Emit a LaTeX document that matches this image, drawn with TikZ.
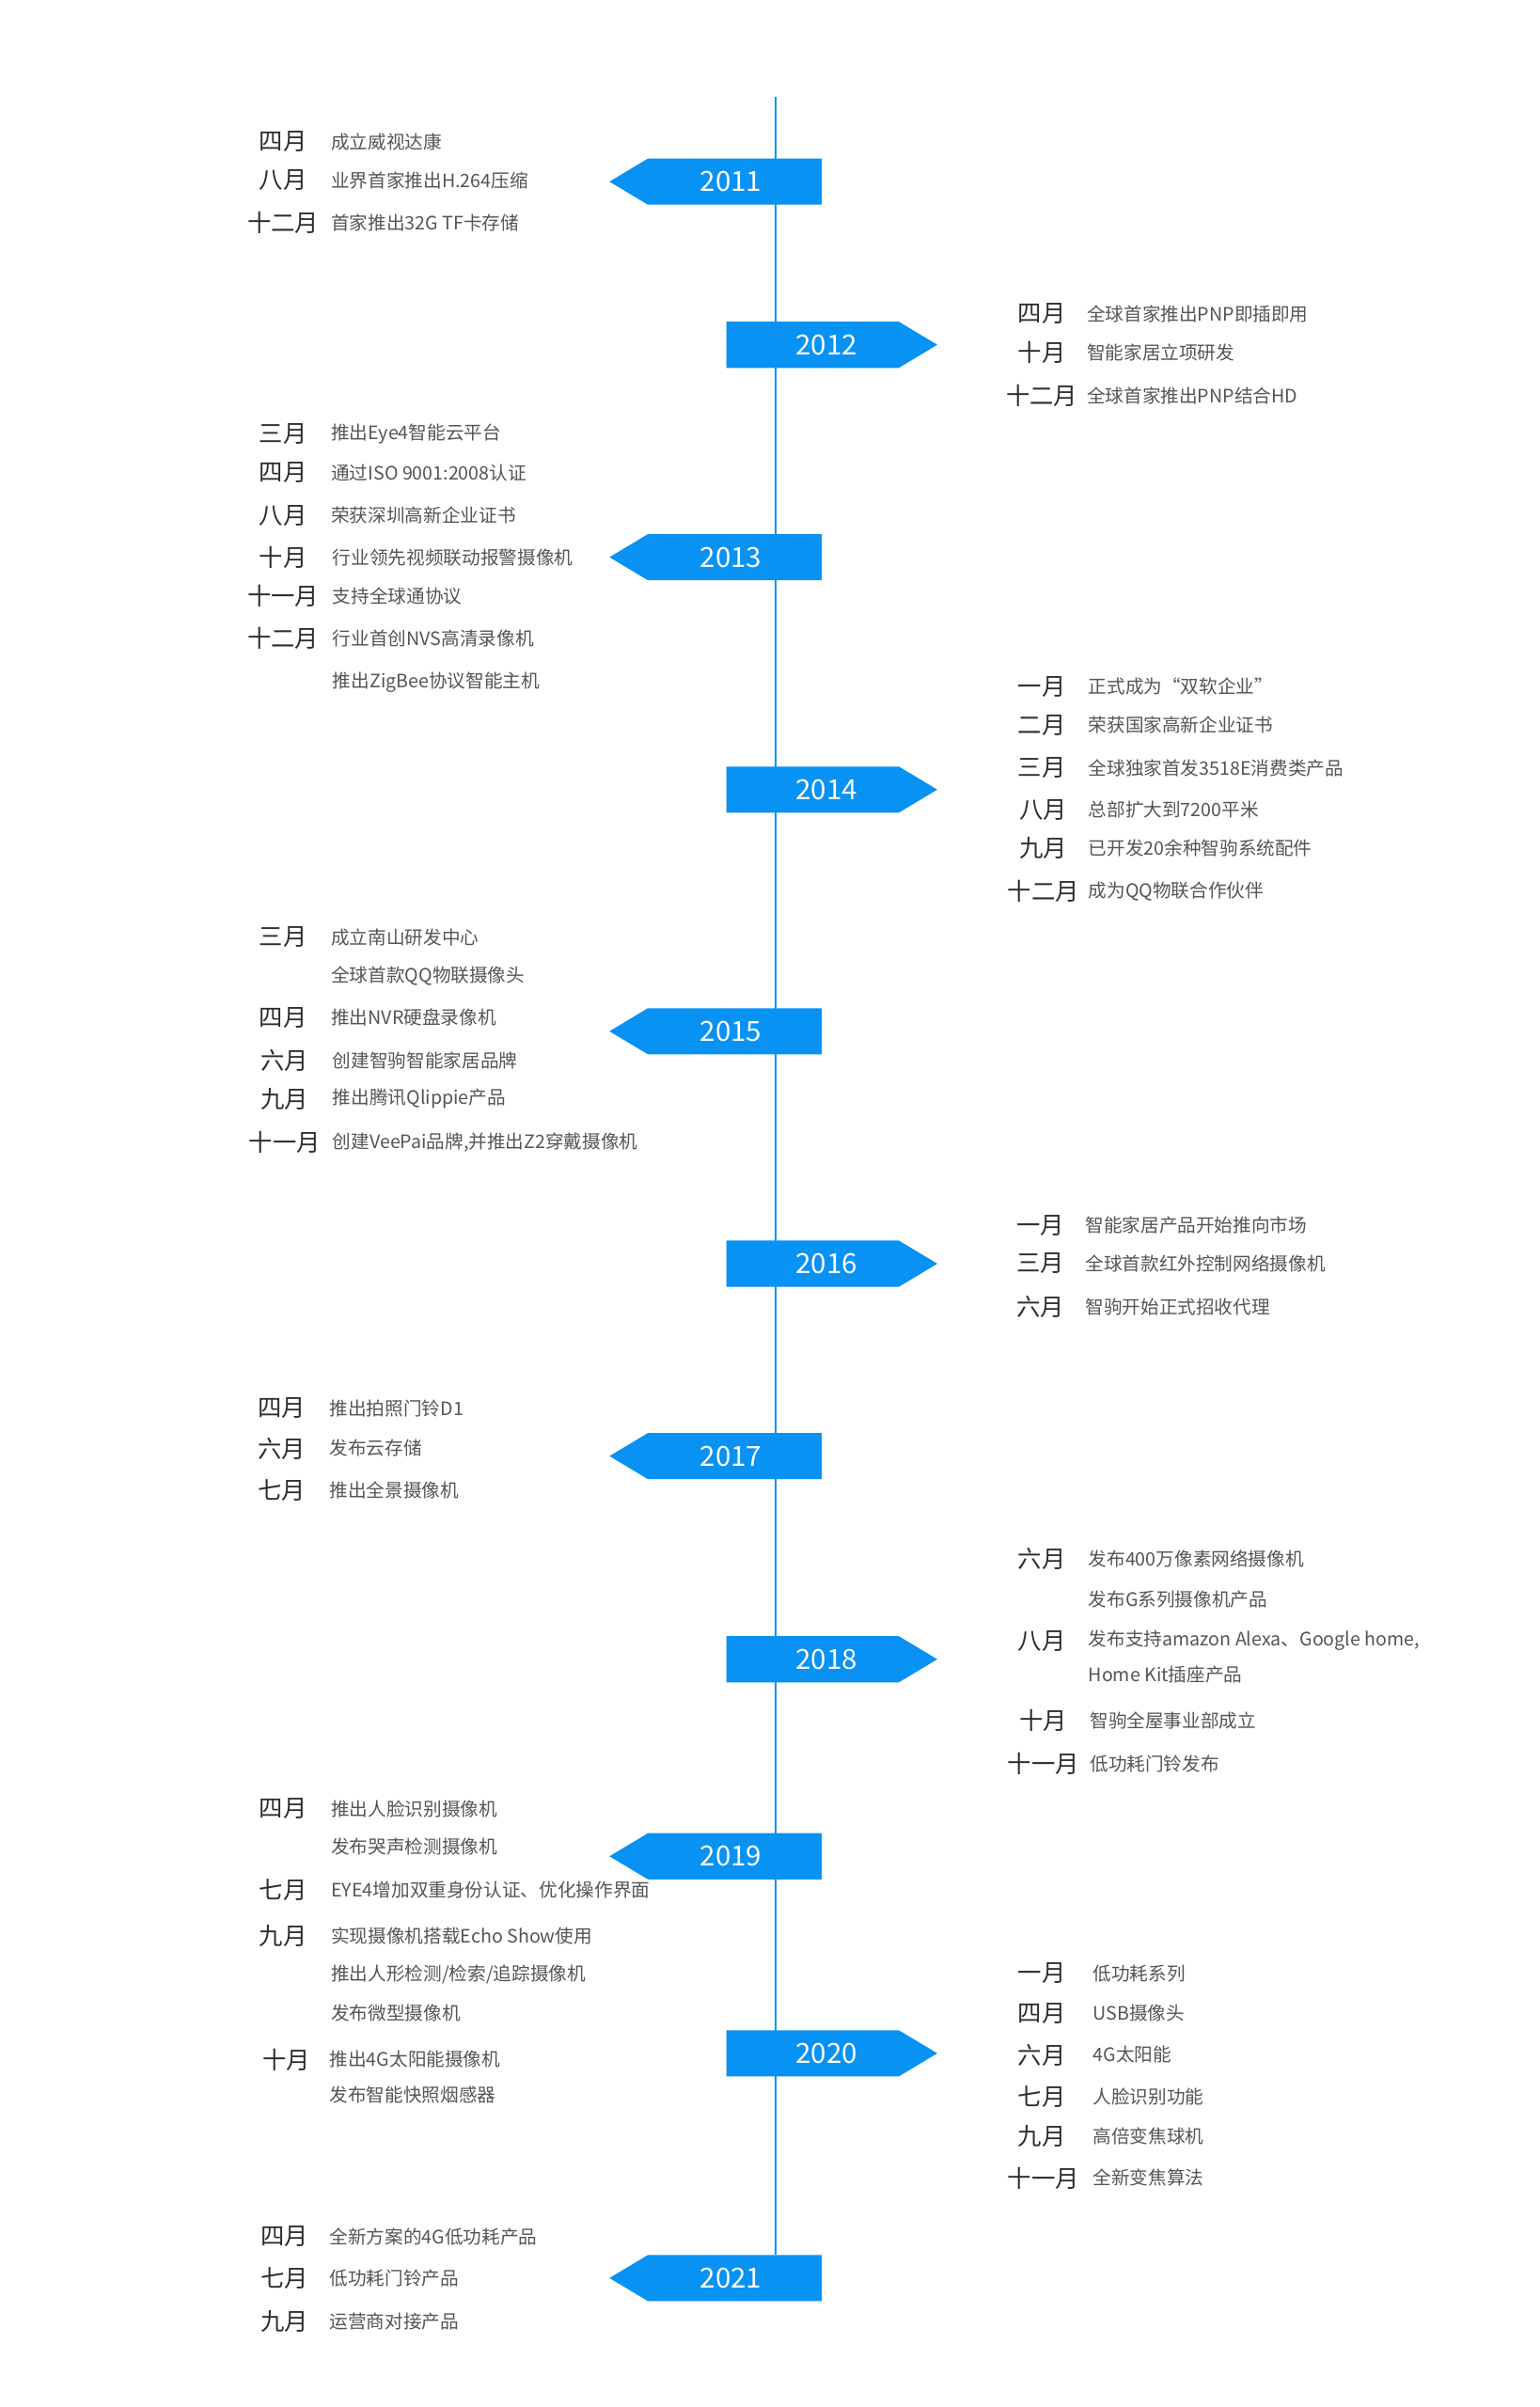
\documentclass[tikz,border=0pt]{standalone}
\usepackage{fontspec}
\setmainfont{Noto Sans CJK SC}
\definecolor{tlblue}{RGB}{8,146,244}
\definecolor{mongray}{RGB}{45,45,45}
\definecolor{descgray}{RGB}{85,85,85}
\tikzset{tlline/.style={draw=tlblue, line width=1.3pt}}
\tikzset{yeartext/.style={text=white, inner sep=0pt, font=\fontsize{18}{20}\selectfont}}
\tikzset{month/.style={text=mongray, inner sep=0pt, font=\fontsize{15.5}{18}\selectfont}}
\tikzset{event/.style={text=descgray, inner sep=0pt, anchor=west, font=\fontsize{12}{14}\selectfont}}

\begin{document}
\begin{tikzpicture}[x=1pt, y=-1pt]
    \fill[white] (0,0) rectangle (1000,1563.8);

    \coordinate (tltop) at (504,63);
    \coordinate (tlbot) at (504,1465);
    \draw[tlline] (tltop) -- (tlbot);

    % 2011
    \fill[tlblue] (534,118) ++(0,-15) -- ++(-113,0) -- ++(-25,15) -- ++(25,15) -- ++(113,0) -- cycle;
    \node[yeartext] (y2011) at (475,118) {2011};
    \node[month] (m11a) at (184,92)  {四月};   \node[event] (e11a) at (215,92)  {成立威视达康};
    \node[month] (m11b) at (184,117) {八月};   \node[event] (e11b) at (215,117) {业界首家推出H.264压缩};
    \node[month] (m11c) at (184,145) {十二月}; \node[event] (e11c) at (215,145) {首家推出32G TF卡存储};

    % 2012
    \fill[tlblue] (472,224) ++(0,-15) -- ++(112,0) -- ++(25,15) -- ++(-25,15) -- ++(-112,0) -- cycle;
    \node[yeartext] (y2012) at (537,224) {2012};
    \node[month] (m12a) at (677,204) {四月};   \node[event] (e12a) at (706,204) {全球首家推出PNP即插即用};
    \node[month] (m12b) at (677,229) {十月};   \node[event] (e12b) at (706,229) {智能家居立项研发};
    \node[month] (m12c) at (677,257) {十二月}; \node[event] (e12c) at (706,257) {全球首家推出PNP结合HD};

    % 2013
    \fill[tlblue] (534,362) ++(0,-15) -- ++(-113,0) -- ++(-25,15) -- ++(25,15) -- ++(113,0) -- cycle;
    \node[yeartext] (y2013) at (475,362) {2013};
    \node[month] (m13a) at (184,282) {三月};   \node[event] (e13a) at (215,282) {推出Eye4智能云平台};
    \node[month] (m13b) at (184,307) {四月};   \node[event] (e13b) at (215,307) {通过ISO 9001:2008认证};
    \node[month] (m13c) at (184,335) {八月};   \node[event] (e13c) at (215,335) {荣获深圳高新企业证书};
    \node[month] (m13d) at (184,362) {十月};   \node[event] (e13d) at (216,362) {行业领先视频联动报警摄像机};
    \node[month] (m13e) at (184,387) {十一月}; \node[event] (e13e) at (216,387) {支持全球通协议};
    \node[month] (m13f) at (184,415) {十二月}; \node[event] (e13f) at (216,415) {行业首创NVS高清录像机};
                                              \node[event] (e13g) at (216,443) {推出ZigBee协议智能主机};

    % 2014
    \fill[tlblue] (472,513) ++(0,-15) -- ++(112,0) -- ++(25,15) -- ++(-25,15) -- ++(-112,0) -- cycle;
    \node[yeartext] (y2014) at (537,513) {2014};
    \node[month] (m14a) at (677,446) {一月};   \node[event] (e14a) at (707,446) {正式成为“双软企业”};
    \node[month] (m14b) at (677,471) {二月};   \node[event] (e14b) at (707,471) {荣获国家高新企业证书};
    \node[month] (m14c) at (677,499) {三月};   \node[event] (e14c) at (707,499) {全球独家首发3518E消费类产品};
    \node[month] (m14d) at (678,526) {八月};   \node[event] (e14d) at (707,526) {总部扩大到7200平米};
    \node[month] (m14e) at (678,551) {九月};   \node[event] (e14e) at (707,551) {已开发20余种智驹系统配件};
    \node[month] (m14f) at (678,579) {十二月}; \node[event] (e14f) at (707,579) {成为QQ物联合作伙伴};

    % 2015
    \fill[tlblue] (534,670) ++(0,-15) -- ++(-113,0) -- ++(-25,15) -- ++(25,15) -- ++(113,0) -- cycle;
    \node[yeartext] (y2015) at (475,670) {2015};
    \node[month] (m15a) at (184,609) {三月};   \node[event] (e15a) at (215,609) {成立南山研发中心};
                                              \node[event] (e15b) at (215,634) {全球首款QQ物联摄像头};
    \node[month] (m15c) at (184,661) {四月};   \node[event] (e15c) at (215,661) {推出NVR硬盘录像机};
    \node[month] (m15d) at (185,689) {六月};   \node[event] (e15d) at (216,689) {创建智驹智能家居品牌};
    \node[month] (m15e) at (185,714) {九月};   \node[event] (e15e) at (216,714) {推出腾讯Qlippie产品};
    \node[month] (m15f) at (185,742) {十一月}; \node[event] (e15f) at (216,742) {创建VeePai品牌,并推出Z2穿戴摄像机};

    % 2016
    \fill[tlblue] (472,821) ++(0,-15) -- ++(112,0) -- ++(25,15) -- ++(-25,15) -- ++(-112,0) -- cycle;
    \node[yeartext] (y2016) at (537,821) {2016};
    \node[month] (m16a) at (676,796) {一月};   \node[event] (e16a) at (705,796) {智能家居产品开始推向市场};
    \node[month] (m16b) at (676,821) {三月};   \node[event] (e16b) at (705,821) {全球首款红外控制网络摄像机};
    \node[month] (m16c) at (676,849) {六月};   \node[event] (e16c) at (705,849) {智驹开始正式招收代理};

    % 2017
    \fill[tlblue] (534,946) ++(0,-15) -- ++(-113,0) -- ++(-25,15) -- ++(25,15) -- ++(113,0) -- cycle;
    \node[yeartext] (y2017) at (475,946) {2017};
    \node[month] (m17a) at (183,915) {四月};   \node[event] (e17a) at (214,915) {推出拍照门铃D1};
    \node[month] (m17b) at (183,941) {六月};   \node[event] (e17b) at (214,941) {发布云存储};
    \node[month] (m17c) at (183,968) {七月};   \node[event] (e17c) at (214,968) {推出全景摄像机};

    % 2018
    \fill[tlblue] (472,1078) ++(0,-15) -- ++(112,0) -- ++(25,15) -- ++(-25,15) -- ++(-112,0) -- cycle;
    \node[yeartext] (y2018) at (537,1078) {2018};
    \node[month] (m18a) at (677,1013) {六月};   \node[event] (e18a) at (707,1013) {发布400万像素网络摄像机};
                                               \node[event] (e18b) at (707,1039) {发布G系列摄像机产品};
    \node[month] (m18c) at (677,1066) {八月};   \node[event] (e18c) at (707,1066) {发布支持amazon Alexa、Google home,};
                                               \node[event] (e18d) at (707,1088) {Home Kit插座产品};
    \node[month] (m18e) at (678,1118) {十月};   \node[event] (e18e) at (708,1118) {智驹全屋事业部成立};
    \node[month] (m18f) at (678,1146) {十一月}; \node[event] (e18f) at (708,1146) {低功耗门铃发布};

    % 2019
    \fill[tlblue] (534,1206) ++(0,-15) -- ++(-113,0) -- ++(-25,15) -- ++(25,15) -- ++(113,0) -- cycle;
    \node[yeartext] (y2019) at (475,1206) {2019};
    \node[month] (m19a) at (184,1175) {四月};   \node[event] (e19a) at (215,1175) {推出人脸识别摄像机};
                                               \node[event] (e19b) at (215,1200) {发布哭声检测摄像机};
    \node[month] (m19c) at (184,1228) {七月};   \node[event] (e19c) at (215,1228) {EYE4增加双重身份认证、优化操作界面};
    \node[month] (m19d) at (184,1258) {九月};   \node[event] (e19d) at (215,1258) {实现摄像机搭载Echo Show使用};
                                               \node[event] (e19e) at (215,1283) {推出人形检测/检索/追踪摄像机};
                                               \node[event] (e19f) at (215,1308) {发布微型摄像机};
    \node[month] (m19g) at (186,1338) {十月};   \node[event] (e19g) at (214,1338) {推出4G太阳能摄像机};
                                               \node[event] (e19h) at (214,1361) {发布智能快照烟感器};

    % 2020
    \fill[tlblue] (472,1334) ++(0,-15) -- ++(112,0) -- ++(25,15) -- ++(-25,15) -- ++(-112,0) -- cycle;
    \node[yeartext] (y2020) at (537,1334) {2020};
    \node[month] (m20a) at (677,1282) {一月};   \node[event] (e20a) at (710,1282) {低功耗系列};
    \node[month] (m20b) at (677,1308) {四月};   \node[event] (e20b) at (710,1308) {USB摄像头};
    \node[month] (m20c) at (677,1335) {六月};   \node[event] (e20c) at (710,1335) {4G太阳能};
    \node[month] (m20d) at (677,1362) {七月};   \node[event] (e20d) at (710,1362) {人脸识别功能};
    \node[month] (m20e) at (677,1388) {九月};   \node[event] (e20e) at (710,1388) {高倍变焦球机};
    \node[month] (m20f) at (678,1415) {十一月}; \node[event] (e20f) at (710,1415) {全新变焦算法};

    % 2021
    \fill[tlblue] (534,1480) ++(0,-15) -- ++(-113,0) -- ++(-25,15) -- ++(25,15) -- ++(113,0) -- cycle;
    \node[yeartext] (y2021) at (475,1480) {2021};
    \node[month] (m21a) at (185,1453) {四月};   \node[event] (e21a) at (214,1453) {全新方案的4G低功耗产品};
    \node[month] (m21b) at (185,1480) {七月};   \node[event] (e21b) at (214,1480) {低功耗门铃产品};
    \node[month] (m21c) at (185,1508) {九月};   \node[event] (e21c) at (214,1508) {运营商对接产品};

\end{tikzpicture}
\end{document}
